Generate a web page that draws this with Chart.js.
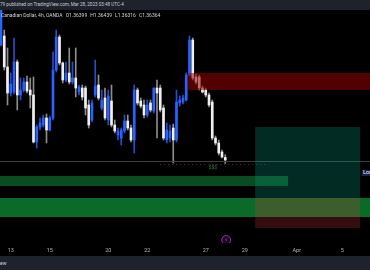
<!DOCTYPE html>
<html>
<head>
<meta charset="utf-8">
<script src="https://cdn.jsdelivr.net/npm/chart.js@4.4.0/dist/chart.umd.min.js"></script>
<style>
  html, body { margin: 0; padding: 0; background: #000; overflow: hidden; }
  body { width: 370px; height: 270px; position: relative; font-family: Roboto, "DejaVu Sans", sans-serif; }
  #top { position: absolute; left: 0; top: 0; width: 370px; height: 10px; background: #1e222d; color: #c8cad0; font-size: 4.6px; line-height: 10px; white-space: nowrap; }
  #legend { position: absolute; left: 1px; top: 12px; color: #d1d4dc; font-size: 5px; white-space: nowrap; z-index: 2; }
  #legend span { margin-left: 3px; }
  #bottom { position: absolute; left: 0; top: 256px; width: 370px; height: 14px; background: #1e222d; color: #d1d4dc; font-size: 5px; line-height: 14px; }
  #wrap { position: absolute; left: 0; top: 10px; width: 370px; height: 246px; }
</style>
</head>
<body>
<div id="top">79 published on TradingView.com, Mar 28, 2023 03:48 UTC-4</div>
<div id="legend">Canadian Dollar, 4h, OANDA<span>O1.36399</span><span>H1.36439</span><span>L1.36316</span><span>C1.36364</span></div>
<div id="wrap"><canvas id="chart" width="370" height="246"></canvas></div>
<div id="bottom">ew</div>
<script>
// USDCAD 4h candles, one per bar index
const opens  = [1.37974,1.38100,1.37666,1.37302,1.37316,1.37736,1.37274,1.37344,1.37456,1.37344,
                1.37274,1.36616,1.36826,1.36854,1.36952,1.36784,1.36952,1.37624,1.38086,1.37722,
                1.37484,1.37582,1.37456,1.37512,1.37316,1.37372,1.37372,1.37134,1.36924,1.37274,
                1.37414,1.37092,1.37232,1.36924,1.37190,1.36854,1.36714,1.36672,1.36770,1.36910,
                1.36812,1.36644,1.37344,1.37190,1.37134,1.36994,1.37162,1.37050,1.37372,1.37372,
                1.37092,1.36644,1.36672,1.36812,1.36644,1.37162,1.37176,1.37204,1.37554,1.38044,
                1.37526,1.37526,1.37372,1.37344,1.37274,1.37176,1.36672,1.36602,1.36476,1.36399];
const highs  = [1.38534,1.38184,1.37932,1.37582,1.38072,1.37764,1.37512,1.37512,1.37540,1.37512,
                1.37526,1.36854,1.36952,1.36994,1.37008,1.36980,1.37876,1.38184,1.38114,1.37736,
                1.37736,1.37932,1.37736,1.37932,1.37414,1.37414,1.37400,1.37204,1.37204,1.37764,
                1.37554,1.37344,1.37372,1.37344,1.37414,1.36924,1.36812,1.36812,1.36994,1.36994,
                1.36854,1.37414,1.37372,1.37232,1.37204,1.37204,1.37204,1.37372,1.37484,1.37414,
                1.37134,1.36882,1.36854,1.36868,1.37344,1.37260,1.37274,1.37582,1.38100,1.38072,
                1.37568,1.37554,1.37400,1.37372,1.37302,1.37204,1.36700,1.36644,1.36504,1.36439];
const lows   = [1.37960,1.37624,1.37134,1.37260,1.37288,1.37064,1.37204,1.37316,1.37302,1.37092,
                1.36602,1.36532,1.36784,1.36826,1.36602,1.36770,1.36924,1.37596,1.37694,1.37442,
                1.37456,1.37428,1.37428,1.37246,1.37274,1.37204,1.36994,1.36812,1.36896,1.37246,
                1.37204,1.37064,1.36924,1.36854,1.36826,1.36742,1.36644,1.36574,1.36742,1.36784,
                1.36616,1.36462,1.37134,1.37092,1.36952,1.36966,1.37036,1.37022,1.36672,1.37036,
                1.36644,1.36602,1.36616,1.36322,1.36616,1.37120,1.37148,1.37190,1.37540,1.37484,
                1.37428,1.37344,1.37302,1.37246,1.37106,1.36644,1.36574,1.36434,1.36392,1.36316];
const closes = [1.38464,1.37666,1.37302,1.37428,1.37736,1.37274,1.37344,1.37456,1.37330,1.37274,
                1.36616,1.36826,1.36882,1.36952,1.36784,1.36952,1.37624,1.38086,1.37722,1.37484,
                1.37582,1.37456,1.37512,1.37372,1.37386,1.37246,1.37092,1.36854,1.37162,1.37400,
                1.37232,1.37204,1.36952,1.37260,1.36854,1.36770,1.36770,1.36784,1.36910,1.36812,
                1.36644,1.37344,1.37162,1.37120,1.36994,1.37134,1.37064,1.37372,1.37302,1.37064,
                1.36672,1.36784,1.36770,1.36644,1.37176,1.37204,1.37232,1.37554,1.38044,1.37512,
                1.37456,1.37372,1.37316,1.37274,1.37134,1.36672,1.36602,1.36462,1.36406,1.36364];

// date ticks on the bar index axis
const tickIdx  = [3, 15, 33, 45, 63, 75, 91, 105];
const tickText = ['13', '15', '20', '22', '27', '29', 'Apr', '5'];

// drawn zones: bar index from/to, price top/bottom
const zoneFrom   = [-2, -2, 57.5];
const zoneTo     = [88.3, 120, 120];
const zoneTop    = [1.36140, 1.35832, 1.37582];
const zoneBottom = [1.36000, 1.35566, 1.37344];
const zoneFill   = ['#0a4b1f', '#0a6a27', 'rgba(150,0,0,0.55)'];

// long position tool
const posFrom = 78.2, posTo = 110.5;
const posTarget = 1.36826, posEntry = 1.35832, posStop = 1.35412;

// horizontal levels
const lowLine = 1.36350;
const liqLevel = 1.36301, liqFrom = 48.9, liqTo = 82.2;

const bull = '#2962ff', bear = '#f0f0f0';
const bodyColors = opens.map((o, i) => closes[i] >= o ? bull : bear);
const wickColors = opens.map((o, i) => closes[i] >= o ? '#2450d0' : '#8c8c8c');

const drawings = {
  id: 'drawings',
  afterDatasetsDraw(chart) {
    const { ctx, chartArea: a, scales: { x, y } } = chart;
    const box = (i1, i2, p1, p2, fill) => {
      const x1 = x.getPixelForValue(i1), x2 = x.getPixelForValue(i2);
      const y1 = y.getPixelForValue(p1), y2 = y.getPixelForValue(p2);
      ctx.fillStyle = fill;
      ctx.fillRect(x1, y1, x2 - x1, y2 - y1);
    };
    ctx.save();
    ctx.beginPath();
    ctx.rect(a.left, a.top, a.right - a.left, a.bottom - a.top);
    ctx.clip();
    zoneFrom.forEach((f, k) => box(f, zoneTo[k], zoneTop[k], zoneBottom[k], zoneFill[k]));

    // low line
    ctx.strokeStyle = '#3b3d44';
    ctx.lineWidth = 1;
    const ly = Math.round(y.getPixelForValue(lowLine)) + 0.5;
    ctx.beginPath(); ctx.moveTo(a.left, ly); ctx.lineTo(a.right, ly); ctx.stroke();

    // liquidity dotted line
    const qy = Math.round(y.getPixelForValue(liqLevel)) + 0.5;
    ctx.strokeStyle = '#561820';
    ctx.setLineDash([1.5, 2.5]);
    ctx.beginPath(); ctx.moveTo(x.getPixelForValue(liqFrom), qy); ctx.lineTo(x.getPixelForValue(liqTo), qy); ctx.stroke();
    ctx.setLineDash([]);
    ctx.fillStyle = '#1f8a3a';
    ctx.font = '5px Roboto, sans-serif';
    ctx.textAlign = 'center';
    ctx.textBaseline = 'top';
    ctx.fillText('$$$', x.getPixelForValue(65.2), qy + 1);

    // long position
    box(posFrom, posTo, posTarget, posEntry, 'rgba(8,153,129,0.28)');
    box(posFrom, posTo, posEntry, posStop, 'rgba(242,54,69,0.22)');

    // Low label at the right edge
    const lx = x.getPixelForValue(111), lyy = y.getPixelForValue(1.36224);
    ctx.fillStyle = '#17224f';
    ctx.fillRect(lx, lyy, 18, 6);
    ctx.fillStyle = '#ffffff';
    ctx.textAlign = 'left';
    ctx.textBaseline = 'middle';
    ctx.font = '5px Roboto, sans-serif';
    ctx.fillText('Low', lx + 1.5, lyy + 3.2);

    // event marker
    const ex = x.getPixelForValue(69.3), ey = y.getPixelForValue(1.35244);
    ctx.beginPath();
    ctx.arc(ex, ey, 4.5, 0, Math.PI * 2);
    ctx.fillStyle = '#1c0a24';
    ctx.fill();
    ctx.strokeStyle = '#9c27b0';
    ctx.lineWidth = 1;
    ctx.stroke();
    ctx.fillStyle = '#b04ad0';
    ctx.textAlign = 'center';
    ctx.font = '5px "DejaVu Sans", sans-serif';
    ctx.fillText('\u26A1', ex, ey + 0.3);
    ctx.restore();
  }
};

new Chart(document.getElementById('chart').getContext('2d'), {
  type: 'bar',
  data: {
    datasets: [{
      label: 'wick',
      data: lows.map((l, i) => ({ x: i, y: [l, highs[i]] })),
      backgroundColor: wickColors,
      barThickness: 1,
      grouped: false,
      order: 2
    }, {
      label: 'body',
      data: opens.map((o, i) => ({ x: i, y: [o, closes[i]] })),
      backgroundColor: bodyColors,
      barThickness: 2,
      minBarLength: 1,
      grouped: false,
      order: 1
    }]
  },
  options: {
    responsive: false,
    animation: false,
    events: [],
    layout: { padding: 0 },
    plugins: { legend: { display: false }, tooltip: { enabled: false } },
    scales: {
      x: {
        type: 'linear',
        min: -0.31,
        max: 113.54,
        offset: false,
        grid: { display: false, drawTicks: false },
        border: { display: false },
        afterFit: (s) => { s.height = 13; },
        afterBuildTicks: (s) => { s.ticks = tickIdx.map(v => ({ value: v })); },
        ticks: {
          autoSkip: false,
          maxRotation: 0,
          padding: 4,
          color: '#b2b5be',
          font: { family: 'Roboto', size: 5.5 },
          callback: (v) => tickText[tickIdx.indexOf(v)]
        }
      },
      y: {
        display: false,
        min: 1.35202,
        max: 1.38464
      }
    }
  },
  plugins: [drawings]
});
</script>
</body>
</html>
